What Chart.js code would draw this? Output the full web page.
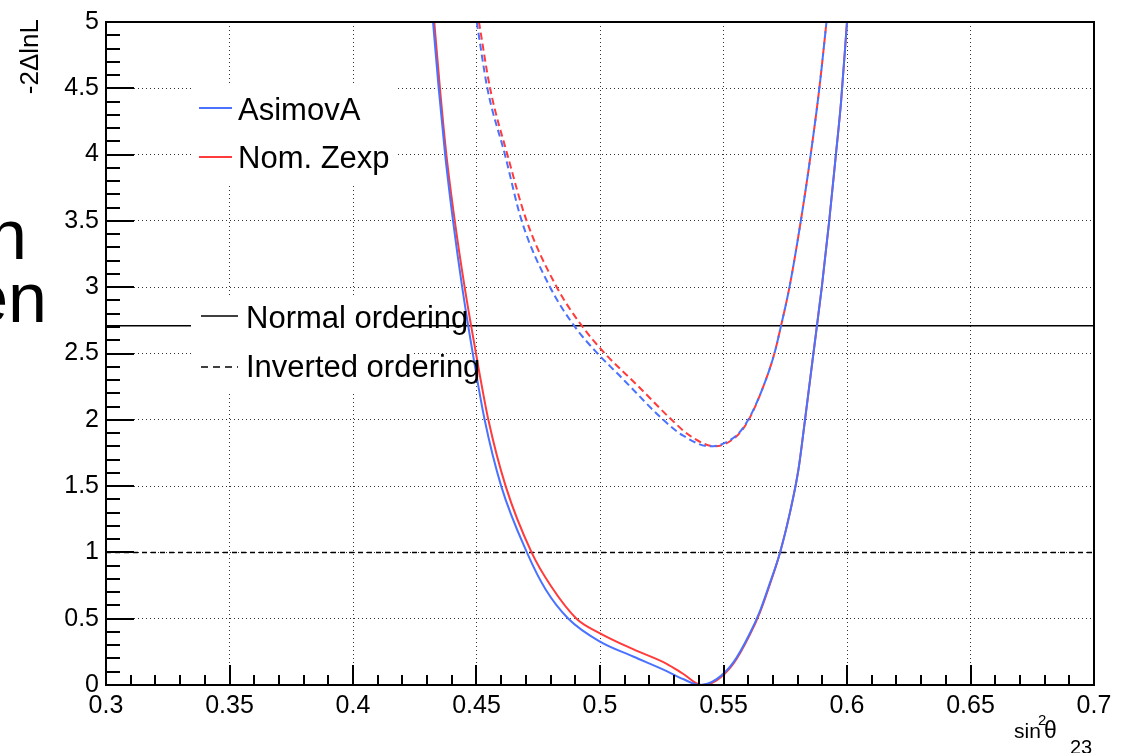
<!DOCTYPE html>
<html>
<head>
<meta charset="utf-8">
<script src="https://cdn.jsdelivr.net/npm/chart.js@4.4.0/dist/chart.umd.min.js"></script>
<style>
  html, body { margin: 0; padding: 0; background: #fff; }
  canvas { display: block; }
</style>
</head>
<body>
<canvas id="scan" width="1121" height="753"></canvas>
<script>
// tick labels
const xTickLabels = ['0.3', '0.35', '0.4', '0.45', '0.5', '0.55', '0.6', '0.65', '0.7'];
const yTickLabels = ['0', '0.5', '1', '1.5', '2', '2.5', '3', '3.5', '4', '4.5', '5'];

// AsimovA, normal ordering (solid blue)
const asimovNO_x = [0.4324, 0.4347, 0.4373, 0.4405, 0.4442, 0.4485, 0.4533, 0.4600, 0.4704, 0.4780, 0.4872, 0.5000, 0.5134, 0.5270, 0.5336, 0.5405, 0.5472, 0.5540, 0.5607, 0.5648, 0.5688, 0.5729, 0.5769, 0.5803, 0.5830, 0.5864, 0.5898, 0.5928, 0.5955, 0.5976, 0.6000];
const asimovNO_y = [5.0, 4.5, 4.0, 3.5, 3.0, 2.5, 2.0, 1.5, 1.0, 0.72, 0.5, 0.327, 0.215, 0.105, 0.045, 0.0, 0.044, 0.17, 0.39, 0.56, 0.77, 1.0, 1.3, 1.62, 2.0, 2.5, 3.0, 3.5, 4.0, 4.4, 5.0];

// Nom. Zexp, normal ordering (solid red)
const zexpNO_x = [0.4329, 0.4352, 0.4378, 0.4412, 0.4452, 0.4498, 0.4548, 0.4618, 0.4723, 0.4800, 0.4905, 0.5000, 0.5134, 0.5270, 0.5336, 0.5410, 0.5472, 0.5540, 0.5607, 0.5648, 0.5688, 0.5729, 0.5769, 0.5803, 0.5830, 0.5864, 0.5898, 0.5928, 0.5955, 0.5976, 0.6000];
const zexpNO_y = [5.0, 4.5, 4.0, 3.5, 3.0, 2.5, 2.0, 1.5, 1.0, 0.75, 0.5, 0.39, 0.27, 0.16, 0.085, 0.0, 0.035, 0.16, 0.38, 0.55, 0.76, 1.0, 1.3, 1.62, 2.0, 2.5, 3.0, 3.5, 4.0, 4.4, 5.0];

// AsimovA, inverted ordering (dashed blue)
const asimovIO_x = [0.4501, 0.4544, 0.4615, 0.4683, 0.4798, 0.4895, 0.4990, 0.5081, 0.5121, 0.5256, 0.5337, 0.5445, 0.5551, 0.5600, 0.5661, 0.5706, 0.5733, 0.5767, 0.5813, 0.5853, 0.5888, 0.5917];
const asimovIO_y = [5.0, 4.5, 4.0, 3.5, 3.0, 2.71, 2.5, 2.33, 2.253, 2.0, 1.88, 1.80, 1.88, 2.0, 2.25, 2.5, 2.71, 3.0, 3.5, 4.0, 4.5, 5.0];

// Nom. Zexp, inverted ordering (dashed red)
const zexpIO_x = [0.4510, 0.4555, 0.4625, 0.4703, 0.4825, 0.4926, 0.5020, 0.5155, 0.5290, 0.5364, 0.5465, 0.5555, 0.5602, 0.5661, 0.5706, 0.5733, 0.5767, 0.5813, 0.5853, 0.5888, 0.5917];
const zexpIO_y = [5.0, 4.5, 4.0, 3.5, 3.0, 2.71, 2.5, 2.253, 2.0, 1.88, 1.80, 1.88, 2.0, 2.25, 2.5, 2.71, 3.0, 3.5, 4.0, 4.5, 5.0];

// reference levels
const xRange = [0.3, 0.7];
const level90 = 2.71;
const level68 = 1.0;

const BLUE = '#4a72ff';
const RED = '#ff3b3b';
const FONT = '"Liberation Sans", Arial, sans-serif';

function pts(xs, ys) {
    return xs.map((x, i) => ({ x: x, y: ys[i] }));
}

function curve(label, xs, ys, color, dash) {
    return {
        label: label,
        data: pts(xs, ys),
        showLine: true,
        borderColor: color,
        borderWidth: 2,
        borderDash: dash || [],
        pointRadius: 0,
        cubicInterpolationMode: 'monotone'
    };
}

// ROOT style frame, inside ticks, legends and axis titles
const rootStyle = {
    id: 'rootStyle',
    afterDatasetsDraw(chart) {
        const ctx = chart.ctx;
        ctx.save();
        // legend boxes hide grid and lines behind them
        ctx.fillStyle = '#fff';
        ctx.fillRect(192, 86, 205, 97);
        ctx.fillRect(191, 295, 222, 97);

        ctx.lineWidth = 2;
        ctx.strokeStyle = BLUE;
        ctx.beginPath(); ctx.moveTo(199, 108); ctx.lineTo(232, 108); ctx.stroke();
        ctx.strokeStyle = RED;
        ctx.beginPath(); ctx.moveTo(199, 157); ctx.lineTo(232, 157); ctx.stroke();
        ctx.strokeStyle = '#000';
        ctx.lineWidth = 1.5;
        ctx.beginPath(); ctx.moveTo(201, 316); ctx.lineTo(238, 316); ctx.stroke();
        ctx.setLineDash([7, 5]);
        ctx.beginPath(); ctx.moveTo(201, 367); ctx.lineTo(238, 367); ctx.stroke();
        ctx.setLineDash([]);

        ctx.fillStyle = '#000';
        ctx.font = '31px ' + FONT;
        ctx.textAlign = 'left';
        ctx.textBaseline = 'alphabetic';
        ctx.fillText('AsimovA', 238, 120);
        ctx.fillText('Nom. Zexp', 238, 168);
        ctx.fillText('Normal ordering', 246, 328);
        ctx.fillText('Inverted ordering', 246, 377);
        ctx.restore();
    },
    afterDraw(chart) {
        const ctx = chart.ctx;
        const a = chart.chartArea;
        const xs = chart.scales.x;
        const ys = chart.scales.y;
        ctx.save();
        ctx.strokeStyle = '#000';
        ctx.lineWidth = 2;
        ctx.strokeRect(a.left, a.top, a.right - a.left, a.bottom - a.top);

        // x ticks every 0.01, major every 0.05
        for (let i = 0; i <= 40; i++) {
            const px = Math.round(xs.getPixelForValue(0.3 + i * 0.01));
            const len = i % 5 === 0 ? 20 : 10;
            ctx.beginPath(); ctx.moveTo(px, a.bottom); ctx.lineTo(px, a.bottom - len); ctx.stroke();
        }
        // y ticks every 0.1, major every 0.5
        for (let i = 0; i <= 50; i++) {
            const py = Math.round(ys.getPixelForValue(i * 0.1));
            const len = i % 5 === 0 ? 28 : 14;
            ctx.beginPath(); ctx.moveTo(a.left, py); ctx.lineTo(a.left + len, py); ctx.stroke();
        }

        ctx.fillStyle = '#000';
        // y title
        ctx.save();
        ctx.translate(38, a.top - 3);
        ctx.rotate(-Math.PI / 2);
        ctx.font = '26px ' + FONT;
        ctx.textAlign = 'right';
        ctx.textBaseline = 'alphabetic';
        ctx.fillText('-2\u0394lnL', 0, 0);
        ctx.restore();

        // x title sin^2 theta_23
        ctx.textAlign = 'left';
        ctx.textBaseline = 'alphabetic';
        ctx.font = '21px ' + FONT;
        ctx.fillText('sin', 1014, 738);
        ctx.font = '15px ' + FONT;
        ctx.fillText('2', 1038, 725);
        ctx.font = '23px ' + FONT;
        ctx.fillText('\u03b8', 1044, 738);
        ctx.font = '20px ' + FONT;
        ctx.fillText('23', 1070, 754);

        // leftover slide text at the left edge
        ctx.font = '70px ' + FONT;
        ctx.textAlign = 'right';
        ctx.fillText('n', 27, 259);
        ctx.fillText('en', 47, 322);
        ctx.restore();
    }
};

new Chart(document.getElementById('scan'), {
    type: 'scatter',
    data: {
        datasets: [
            curve('AsimovA NO', asimovNO_x, asimovNO_y, BLUE),
            curve('Nom. Zexp NO', zexpNO_x, zexpNO_y, RED),
            curve('AsimovA IO', asimovIO_x, asimovIO_y, BLUE, [7, 4]),
            curve('Nom. Zexp IO', zexpIO_x, zexpIO_y, RED, [7, 4]),
            {
                label: '90% CL',
                data: pts(xRange, [level90, level90]),
                showLine: true, borderColor: '#000', borderWidth: 1.5, pointRadius: 0
            },
            {
                label: '68% CL',
                data: pts(xRange, [level68, level68]),
                showLine: true, borderColor: '#000', borderWidth: 1.5, borderDash: [5, 4], pointRadius: 0
            }
        ]
    },
    options: {
        responsive: false,
        animation: false,
        layout: { padding: { top: 15, right: 27, left: 0, bottom: 0 } },
        plugins: {
            legend: { display: false },
            tooltip: { enabled: false }
        },
        scales: {
            x: {
                type: 'linear',
                min: 0.3,
                max: 0.7,
                afterBuildTicks: (scale) => { scale.ticks = xTickLabels.map(v => ({ value: Number(v) })); },
                afterFit: (scale) => { scale.height = 68; },
                grid: { color: 'rgba(0,0,0,0.8)', lineWidth: 1, drawTicks: false },
                border: { display: false, dash: [1, 3] },
                ticks: {
                    padding: 6,
                    color: '#000',
                    font: { family: FONT, size: 25 },
                    maxRotation: 0,
                    callback: (v, i) => xTickLabels[i]
                }
            },
            y: {
                min: 0,
                max: 5,
                afterBuildTicks: (scale) => { scale.ticks = yTickLabels.map(v => ({ value: Number(v) })); },
                afterFit: (scale) => { scale.width = 106; },
                grid: { color: 'rgba(0,0,0,0.8)', lineWidth: 1, drawTicks: false },
                border: { display: false, dash: [1, 3] },
                ticks: {
                    padding: 7,
                    color: '#000',
                    font: { family: FONT, size: 25 },
                    callback: (v, i) => yTickLabels[i]
                }
            }
        }
    },
    plugins: [rootStyle]
});
</script>
</body>
</html>
